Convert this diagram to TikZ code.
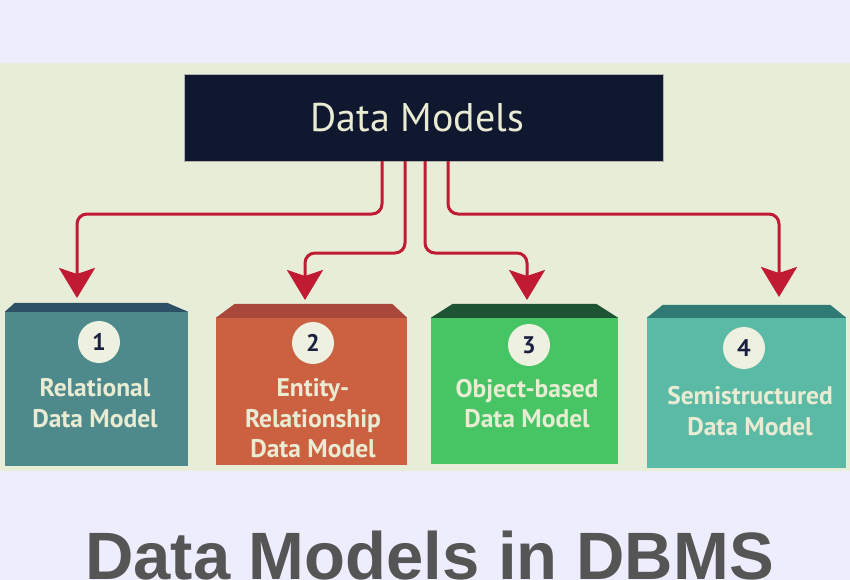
\documentclass[tikz,border=0pt]{standalone}
\usepackage{fontspec}
\setmainfont{PT Sans}
\newfontfamily\titlefont{Liberation Sans}
\usetikzlibrary{arrows.meta,calc}
\definecolor{bgc}{HTML}{EEEDFE}
\definecolor{panel}{HTML}{E8EDD8}
\definecolor{navy}{HTML}{101830}
\definecolor{cream}{HTML}{E9ECD3}
\definecolor{redc}{HTML}{C01B32}
\definecolor{numc}{HTML}{1A2040}
\definecolor{circc}{HTML}{EEF0E0}
\definecolor{bodyA}{HTML}{4E8A8B}
\definecolor{topA}{HTML}{2C5064}
\definecolor{bodyB}{HTML}{CC6142}
\definecolor{topB}{HTML}{A8473A}
\definecolor{bodyC}{HTML}{47C463}
\definecolor{topC}{HTML}{1E5434}
\definecolor{bodyD}{HTML}{5BBAA5}
\definecolor{topD}{HTML}{2F7A74}
\definecolor{grayt}{HTML}{555555}
\begin{document}
\begin{tikzpicture}[x=1pt,y=-1pt,
  boxbody/.style={inner sep=0pt, draw=none},
  numcirc/.style={circle, fill=circc, minimum size=42pt, inner sep=0pt, text=numc, font=\bfseries\fontsize{24}{24}\selectfont},
  boxlabel/.style={align=center, text=cream, inner sep=0pt, font=\bfseries\fontsize{25.5}{30.5}\selectfont},
  conn/.style={draw=redc, line width=3pt, rounded corners=10pt, -{Stealth[length=30pt,width=36pt,inset=6pt]}}
]
\useasboundingbox (0,0) rectangle (850,580);
\fill[bgc] (0,0) rectangle (850,580);
\fill[panel] (0,63) rectangle (850,471);

% top box
\node[fill=navy, draw=gray!60, line width=0.4pt, minimum width=479pt, minimum height=87pt, inner sep=0pt,
      text=cream, font=\fontsize{40}{40}\selectfont] (dm) at (423.5,117.5) {Data Models\hspace*{12pt}};

% boxes
\node[boxbody, fill=bodyA, minimum width=183pt, minimum height=154pt] (b1) at (96.5,389) {};
\node[boxbody, fill=bodyB, minimum width=191pt, minimum height=147pt] (b2) at (311.5,391.5) {};
\node[boxbody, fill=bodyC, minimum width=187pt, minimum height=146pt] (b3) at (524.5,391) {};
\node[boxbody, fill=bodyD, minimum width=199pt, minimum height=150pt] (b4) at (746.5,393) {};

\fill[topA] (b1.north west) -- ($(b1.north west)+(10,-9)$) -- ($(b1.north east)+(-21,-9)$) -- (b1.north east) -- cycle;
\fill[topB] (b2.north west) -- ($(b2.north west)+(19,-14)$) -- ($(b2.north east)+(-15,-14)$) -- (b2.north east) -- cycle;
\fill[topC] (b3.north west) -- ($(b3.north west)+(22,-14)$) -- ($(b3.north east)+(-22,-14)$) -- (b3.north east) -- cycle;
\fill[topD] (b4.north west) -- ($(b4.north west)+(16,-13)$) -- ($(b4.north east)+(-16,-13)$) -- (b4.north east) -- cycle;

% number circles
\node[numcirc] (n1) at (99,342) {1};
\node[numcirc] (n2) at (313,343) {2};
\node[numcirc] (n3) at (529,345) {3};
\node[numcirc] (n4) at (744,348) {4};

% labels
\node[boxlabel] (l1) at (95,403) {Relational\\Data Model};
\node[boxlabel] (l2) at (313,418.5) {Entity-\\Relationship\\Data Model};
\node[boxlabel] (l3) at (527,403.5) {Object-based\\Data Model};
\node[boxlabel] (l4) at (750,411) {Semistructured\\Data Model};

% connectors
\coordinate (s1) at ($(dm.south)+(-41.5,0)$);
\coordinate (s2) at ($(dm.south)+(-18.5,0)$);
\coordinate (s3) at ($(dm.south)+(1.5,0)$);
\coordinate (s4) at ($(dm.south)+(24.5,0)$);
\coordinate (a1) at (77,298);
\coordinate (a2) at (305,300);
\coordinate (a3) at (527,300);
\coordinate (a4) at (779,297);
\draw[conn] (s1) -- (s1 |- 0,214) -- (a1 |- 0,214) -- (a1);
\draw[conn] (s2) -- (s2 |- 0,253) -- (a2 |- 0,253) -- (a2);
\draw[conn] (s3) -- (s3 |- 0,253) -- (a3 |- 0,253) -- (a3);
\draw[conn] (s4) -- (s4 |- 0,214) -- (a4 |- 0,214) -- (a4);

% bottom title
\node[anchor=base, inner sep=0pt, text=grayt, font=\titlefont\bfseries\fontsize{67}{67}\selectfont] (title) at (429.5,579) {Data Models in DBMS};
\end{tikzpicture}
\end{document}
